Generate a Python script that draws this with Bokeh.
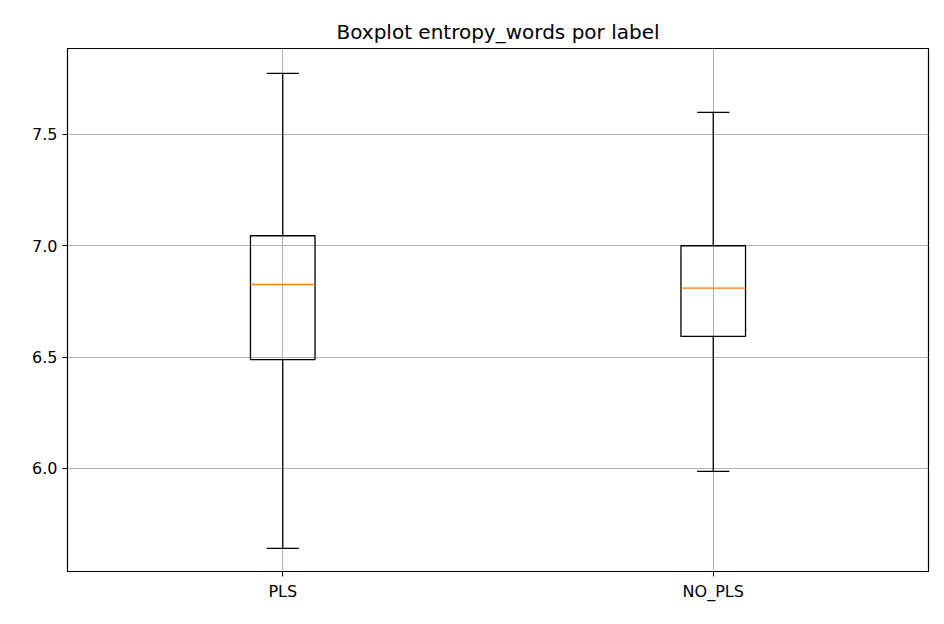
from bokeh.plotting import figure
from bokeh.models import FixedTicker, Range1d
from bokeh.embed import file_html
from bokeh.resources import INLINE

labels = ['PLS', 'NO_PLS']
pos = [1, 2]
whisk_lo = [5.641, 5.987]
q1 = [6.489, 6.593]
med = [6.826, 6.810]
q3 = [7.045, 7.000]
whisk_hi = [7.774, 7.599]

p = figure(width=936, height=616, output_backend="svg", toolbar_location=None,
           x_range=Range1d(0.5, 2.5), y_range=Range1d(5.537, 7.886),
           title='Boxplot entropy_words por label',
           min_border_left=67, min_border_right=8, min_border_top=48, min_border_bottom=45)
p.title.align = 'center'
p.title.text_font = 'DejaVu Sans'
p.title.text_font_size = '15pt'
p.title.text_font_style = 'normal'
p.title.text_color = 'black'

bw = 0.15
cw = 0.075
# whiskers
p.segment(pos, whisk_lo, pos, q1, line_color='black', line_width=1.3)
p.segment(pos, q3, pos, whisk_hi, line_color='black', line_width=1.3)
# caps
p.segment([x - cw / 2 for x in pos], whisk_lo, [x + cw / 2 for x in pos], whisk_lo, line_color='black', line_width=1.3)
p.segment([x - cw / 2 for x in pos], whisk_hi, [x + cw / 2 for x in pos], whisk_hi, line_color='black', line_width=1.3)
# boxes
p.quad(left=[x - bw / 2 for x in pos], right=[x + bw / 2 for x in pos], bottom=q1, top=q3,
       fill_color=None, line_color='black', line_width=1.3)
p.segment([x - bw / 2 for x in pos], med, [x + bw / 2 for x in pos], med, line_color='#ff7f0e', line_width=1.3)

p.xaxis.ticker = FixedTicker(ticks=pos)
p.xaxis.major_label_overrides = {1: labels[0], 2: labels[1]}
p.yaxis.ticker = FixedTicker(ticks=[6.0, 6.5, 7.0, 7.5])
p.yaxis.major_label_overrides = {6.0: '6.0', 6.5: '6.5', 7.0: '7.0', 7.5: '7.5'}
for ax in (p.xaxis, p.yaxis):
    ax.major_label_text_font = 'DejaVu Sans'
    ax.major_label_text_font_size = '12pt'
    ax.major_label_text_color = 'black'
    ax.minor_tick_line_color = None
    ax.major_tick_in = 0
    ax.major_tick_out = 5
    ax.axis_line_color = None
p.grid.grid_line_color = '#b0b0b0'
p.grid.grid_line_width = 1
p.outline_line_color = 'black'
p.outline_line_alpha = 1
p.outline_line_width = 1.2

open("out.html", "w").write(file_html(p, INLINE))
